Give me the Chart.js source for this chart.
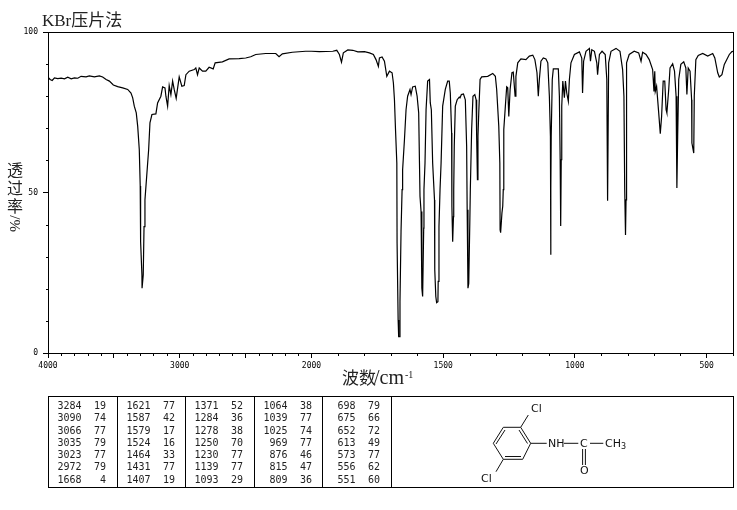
<!DOCTYPE html>
<html>
<head>
<meta charset="utf-8">
<script src="https://cdn.jsdelivr.net/npm/chart.js@4/dist/chart.umd.min.js"></script>
<style>
    html, body { margin: 0; padding: 0; background: #fff; }
    #wrap { position: relative; width: 737px; height: 510px; overflow: hidden; }
    #irChart { position: absolute; left: 0; top: 0; }
    #notes { position: absolute; left: 0; top: 0; }
    .serif { font-family: "Liberation Serif", "Noto Sans CJK SC", serif; fill: #222; }
    .num { font-family: "DejaVu Sans Mono", monospace; font-size: 10px; fill: #222; }
    .atom { font-family: "DejaVu Sans", sans-serif; font-size: 11px; fill: #111; }
</style>
</head>
<body>
<div id="wrap">
    <canvas id="irChart" width="737" height="510"></canvas>
    <svg id="notes" width="737" height="510" xmlns="http://www.w3.org/2000/svg">
        <text class="serif" x="42" y="26" font-size="17">KBr压片法</text>
        <text class="serif" x="7" y="176" font-size="16">透</text>
        <text class="serif" x="7" y="194" font-size="16">过</text>
        <text class="serif" x="7" y="212" font-size="16">率</text>
        <text class="serif" font-size="15" transform="translate(20 232) rotate(-90)">%/</text>
        <text class="serif" x="342" y="384" font-size="17">波数<tspan x="374" font-size="20">/cm</tspan><tspan x="405" y="378" font-size="10">-1</tspan></text>

        <g id="peakTable"></g>

        <g stroke="#111" stroke-width="1" fill="none">
            <path d="M503.3 427.3 L520.7 427.3 L530.7 443.3 L522.7 459.3 L503.3 459.3 L493.3 443.3 Z"/>
            <path d="M505 430 L496 444 M519 430 L527.5 443.5 M505 456.5 L521 456.5"/>
            <path d="M520.7 427.3 L528.3 415 M503.3 459.3 L496 471.7 M530.7 443.3 L546.7 443.3"/>
            <path d="M564 443.3 L578.3 443.3 M590 443.3 L603.3 443.3 M582.6 449 L582.6 465 M585.4 449 L585.4 465"/>
        </g>
        <text class="atom" x="531" y="412">Cl</text>
        <text class="atom" x="481" y="482">Cl</text>
        <text class="atom" x="548" y="447">NH</text>
        <text class="atom" x="580" y="447">C</text>
        <text class="atom" x="580" y="474">O</text>
        <text class="atom" x="605" y="447">CH<tspan font-size="8" dy="2">3</tspan></text>
    </svg>
</div>

<script>
// spectrum, wavenumber (cm-1) and transmittance (%)
const wavenumbers = [
    4000, 3984, 3968, 3951, 3926, 3900, 3875, 3850, 3824, 3799, 3774, 3749, 3711, 3686, 3648, 3610, 3585, 3559, 3534, 3504,
    3471, 3433, 3395, 3370, 3357, 3345, 3330, 3319, 3307, 3300, 3297, 3287, 3286, 3279, 3277, 3271, 3264, 3249, 3236, 3226,
    3211, 3181, 3168, 3143, 3130, 3112, 3105, 3092, 3080, 3067, 3054, 3042, 3027, 3004, 2984, 2966, 2953, 2928, 2890, 2878,
    2865, 2852, 2827, 2802, 2777, 2746, 2731, 2676, 2625, 2549, 2499, 2461, 2423, 2347, 2271, 2246, 2221, 2145, 2044, 2000,
    1970, 1919, 1904, 1894, 1886, 1879, 1862, 1843, 1824, 1799, 1780, 1765, 1755, 1746, 1742, 1732, 1723, 1714, 1704, 1694,
    1689, 1685, 1681, 1676, 1675, 1671, 1669, 1664, 1664, 1660, 1656, 1654, 1647, 1641, 1635, 1626, 1622, 1616, 1606, 1599,
    1593, 1590, 1588, 1584, 1581, 1578, 1574, 1573, 1569, 1565, 1559, 1552, 1549, 1545, 1540, 1533, 1532, 1528, 1525, 1520,
    1519, 1516, 1512, 1508, 1502, 1492, 1483, 1477, 1473, 1468, 1467, 1464, 1461, 1460, 1458, 1454, 1447, 1439, 1436, 1431,
    1423, 1416, 1411, 1409, 1406, 1403, 1399, 1397, 1392, 1387, 1380, 1375, 1373, 1370, 1368, 1365, 1360, 1354, 1331, 1312,
    1302, 1297, 1289, 1285, 1284, 1282, 1277, 1274, 1272, 1270, 1264, 1259, 1255, 1251, 1246, 1239, 1234, 1227, 1224, 1217,
    1205, 1186, 1173, 1160, 1152, 1144, 1139, 1135, 1129, 1120, 1110, 1103, 1097, 1093, 1092, 1091, 1090, 1086, 1082, 1063,
    1059, 1056, 1054, 1052, 1050, 1046, 1040, 1036, 1031, 1025, 1021, 1015, 1002, 983, 974, 971, 967, 958, 945, 941,
    936, 926, 917, 914, 907, 897, 885, 879, 876, 872, 863, 844, 829, 819, 814, 811, 808, 806, 804, 794,
    775, 758, 749, 743, 730, 718, 705, 700, 697, 695, 690, 682, 676, 671, 665, 659, 654, 651, 644, 639,
    629, 622, 616, 613, 610, 606, 598, 587, 579, 575, 570, 563, 557, 556, 549, 547, 541, 532, 515, 496,
    477, 469, 458, 452, 442, 433, 414, 404, 400
];
const transmittance = [
    85.9, 85.2, 84.9, 85.7, 85.5, 85.6, 85.4, 85.9, 85.4, 85.7, 85.6, 86.2, 86.0, 86.3, 86.0, 86.3, 86.0, 85.2, 84.7, 83.5,
    83.0, 82.6, 82.1, 81.0, 79.5, 76.9, 74.8, 70.6, 63.3, 52.0, 34.7, 24.3, 20.2, 20.2, 24.3, 39.4, 47.7, 56.1, 63.3, 71.7,
    74.3, 74.5, 77.9, 80.0, 82.9, 82.6, 80.0, 76.9, 83.3, 80.5, 84.7, 82.1, 79.3, 86.0, 83.1, 83.3, 86.7, 87.8, 88.3, 88.8,
    86.7, 88.8, 87.8, 87.8, 89.0, 88.5, 90.4, 90.7, 91.6, 91.7, 91.9, 92.3, 93.0, 93.3, 93.3, 92.3, 93.2, 93.7, 94.0, 94.0,
    93.9, 94.0, 94.3, 93.0, 90.6, 93.5, 94.4, 94.3, 93.8, 93.9, 93.5, 93.0, 91.4, 89.3, 91.9, 92.2, 90.9, 86.2, 87.8, 87.3,
    84.1, 78.9, 69.6, 59.2, 34.2, 10.3, 5.1, 5.1, 16.0, 37.9, 50.9, 57.1, 66.5, 75.8, 80.0, 82.1, 80.5, 82.9, 83.1, 80.0,
    74.8, 59.2, 48.8, 44.1, 20.2, 17.6, 38.9, 50.9, 59.2, 75.8, 84.7, 85.2, 77.9, 75.8, 59.2, 47.7, 25.9, 17.6, 15.7, 16.0,
    22.3, 39.4, 50.9, 59.2, 76.9, 82.1, 84.7, 84.7, 81.0, 68.5, 45.7, 34.7, 42.5, 50.9, 64.4, 76.9, 78.9, 79.7, 79.5, 80.5,
    80.7, 78.9, 64.4, 44.6, 20.2, 21.7, 40.5, 50.9, 69.6, 80.0, 80.5, 78.9, 67.5, 54.0, 67.5, 74.8, 85.2, 86.0, 86.2, 87.1,
    86.2, 82.1, 70.6, 59.2, 38.4, 37.5, 43.6, 45.7, 50.9, 69.6, 76.9, 82.9, 82.6, 73.7, 82.1, 87.3, 87.5, 80.0, 86.2, 90.4,
    91.6, 91.4, 92.5, 92.8, 91.4, 87.3, 80.0, 85.2, 90.9, 91.9, 91.6, 90.4, 80.0, 67.5, 30.6, 50.9, 67.5, 85.2, 88.5, 88.5,
    80.0, 60.2, 39.6, 60.2, 76.9, 84.7, 79.5, 84.7, 81.0, 78.4, 85.2, 90.4, 93.0, 93.8, 91.9, 81.0, 90.9, 94.0, 94.9, 90.9,
    94.5, 94.0, 90.4, 86.7, 93.0, 94.0, 93.0, 85.2, 47.4, 90.4, 94.0, 94.9, 94.0, 88.3, 80.0, 50.9, 36.8, 47.7, 90.4, 93.0,
    94.0, 93.5, 90.9, 93.7, 93.0, 91.4, 88.3, 81.5, 87.8, 81.5, 83.1, 74.8, 68.3, 73.7, 84.7, 84.7, 75.8, 74.8, 82.1, 88.8,
    90.1, 87.8, 80.0, 51.4, 67.5, 85.2, 89.9, 90.7, 88.8, 80.5, 88.8, 87.8, 78.9, 65.4, 62.3, 80.0, 91.4, 92.7, 93.3, 92.5,
    93.3, 91.9, 87.3, 86.0, 86.7, 89.9, 93.0, 93.9, 94.0
];

const xMajorTicks = [4000, 3500, 3000, 2500, 2000, 1500, 1000, 500];
const xTickLabels = [4000, 3000, 2000, 1500, 1000, 500];
const xMinorTicks = [3900, 3800, 3700, 3600, 3400, 3300, 3200, 3100, 2900, 2800, 2700, 2600, 2400, 2300, 2200, 2100,
    1900, 1800, 1700, 1600, 1400, 1300, 1200, 1100, 900, 800, 700, 600, 400];
const yMajorTicks = [0, 50, 100];
const yMinorTicks = [10, 20, 30, 40, 60, 70, 80, 90];

// peak list under the chart, one pair of arrays for each column
const peakWavenumbers = [
    [3284, 3090, 3066, 3035, 3023, 2972, 1668],
    [1621, 1587, 1579, 1524, 1464, 1431, 1407],
    [1371, 1284, 1278, 1250, 1230, 1139, 1093],
    [1064, 1039, 1025, 969, 876, 815, 809],
    [698, 675, 652, 613, 573, 556, 551]
];
const peakValues = [
    [19, 74, 77, 79, 77, 79, 4],
    [77, 42, 17, 16, 33, 77, 19],
    [52, 36, 38, 70, 77, 77, 29],
    [38, 77, 74, 77, 46, 47, 36],
    [79, 66, 72, 49, 77, 62, 60]
];

function drawPeakTable() {
    const group = document.getElementById('peakTable');
    const svgNs = 'http://www.w3.org/2000/svg';
    const columnLines = [117.5, 185.5, 254.5, 322.5, 391.5];

    const box = document.createElementNS(svgNs, 'rect');
    box.setAttribute('x', 48.5);
    box.setAttribute('y', 396.5);
    box.setAttribute('width', 685);
    box.setAttribute('height', 91);
    box.setAttribute('fill', 'none');
    box.setAttribute('stroke', '#000');
    group.appendChild(box);

    columnLines.forEach(x => {
        const line = document.createElementNS(svgNs, 'line');
        line.setAttribute('x1', x);
        line.setAttribute('x2', x);
        line.setAttribute('y1', 396.5);
        line.setAttribute('y2', 487.5);
        line.setAttribute('stroke', '#000');
        group.appendChild(line);
    });

    peakWavenumbers.forEach((column, c) => {
        const left = c === 0 ? 48.5 : columnLines[c - 1];
        column.forEach((wn, r) => {
            const y = 409 + r * 12.25;
            [[wn, 33], [peakValues[c][r], 57.5]].forEach(([value, offset]) => {
                const t = document.createElementNS(svgNs, 'text');
                t.setAttribute('class', 'num');
                t.setAttribute('x', left + offset);
                t.setAttribute('y', y);
                t.setAttribute('text-anchor', 'end');
                t.textContent = value;
                group.appendChild(t);
            });
        });
    });
}

// the instrument changes x scale at 2000 cm-1: below it 1 cm-1 takes twice the room
class GratingScale extends Chart.LinearScale {
    buildTicks() {
        return xMajorTicks.map(v => ({ value: v }));
    }
    getPixelForValue(value) {
        const units = value >= 2000 ? 4000 - value : 2000 + 2 * (2000 - value);
        return this.left + this.width * units / 5200;
    }
    getValueForPixel(pixel) {
        const units = (pixel - this.left) / this.width * 5200;
        return units <= 2000 ? 4000 - units : 2000 - (units - 2000) / 2;
    }
}
GratingScale.id = 'grating';
GratingScale.defaults = {};
Chart.register(GratingScale);

const framePlugin = {
    id: 'frame',
    afterDraw(chart) {
        const { ctx, chartArea, scales } = chart;
        ctx.save();
        ctx.strokeStyle = '#000';
        ctx.lineWidth = 1;
        ctx.strokeRect(chartArea.left + 0.5, chartArea.top + 0.5, chartArea.width, chartArea.height);
        ctx.beginPath();
        xMinorTicks.forEach(v => {
            const x = Math.round(scales.x.getPixelForValue(v)) + 0.5;
            ctx.moveTo(x, chartArea.bottom);
            ctx.lineTo(x, chartArea.bottom + 3);
        });
        yMinorTicks.forEach(v => {
            const y = Math.round(scales.y.getPixelForValue(v)) + 0.5;
            ctx.moveTo(chartArea.left, y);
            ctx.lineTo(chartArea.left - 2, y);
        });
        ctx.stroke();
        ctx.restore();
    }
};

const tickFont = { family: '"DejaVu Sans Mono", monospace', size: 8 };

new Chart(document.getElementById('irChart').getContext('2d'), {
    type: 'line',
    data: {
        datasets: [{
            data: wavenumbers.map((w, i) => ({ x: w, y: transmittance[i] })),
            borderColor: '#000',
            borderWidth: 1.2,
            pointRadius: 0,
            tension: 0,
            fill: false
        }]
    },
    options: {
        responsive: false,
        animation: false,
        devicePixelRatio: 1,
        layout: { padding: { top: 32, right: 4, left: 0, bottom: 0 } },
        plugins: { legend: { display: false }, tooltip: { enabled: false } },
        scales: {
            x: {
                type: 'grating',
                min: 400,
                max: 4000,
                afterFit(scale) { scale.height = 157; },
                border: { color: '#000', width: 1 },
                grid: { drawOnChartArea: false, tickLength: 5, tickColor: '#000' },
                ticks: {
                    autoSkip: false,
                    maxRotation: 0,
                    padding: 3,
                    color: '#000',
                    font: tickFont,
                    callback: v => xTickLabels.includes(v) ? String(v) : ''
                }
            },
            y: {
                min: 0,
                max: 100,
                afterFit(scale) { scale.width = 48; },
                afterBuildTicks(scale) { scale.ticks = yMajorTicks.map(v => ({ value: v })); },
                border: { color: '#000', width: 1 },
                grid: { drawOnChartArea: false, tickLength: 5, tickColor: '#000' },
                ticks: { padding: 5, color: '#000', font: tickFont }
            }
        }
    },
    plugins: [framePlugin]
});

drawPeakTable();
</script>
</body>
</html>
